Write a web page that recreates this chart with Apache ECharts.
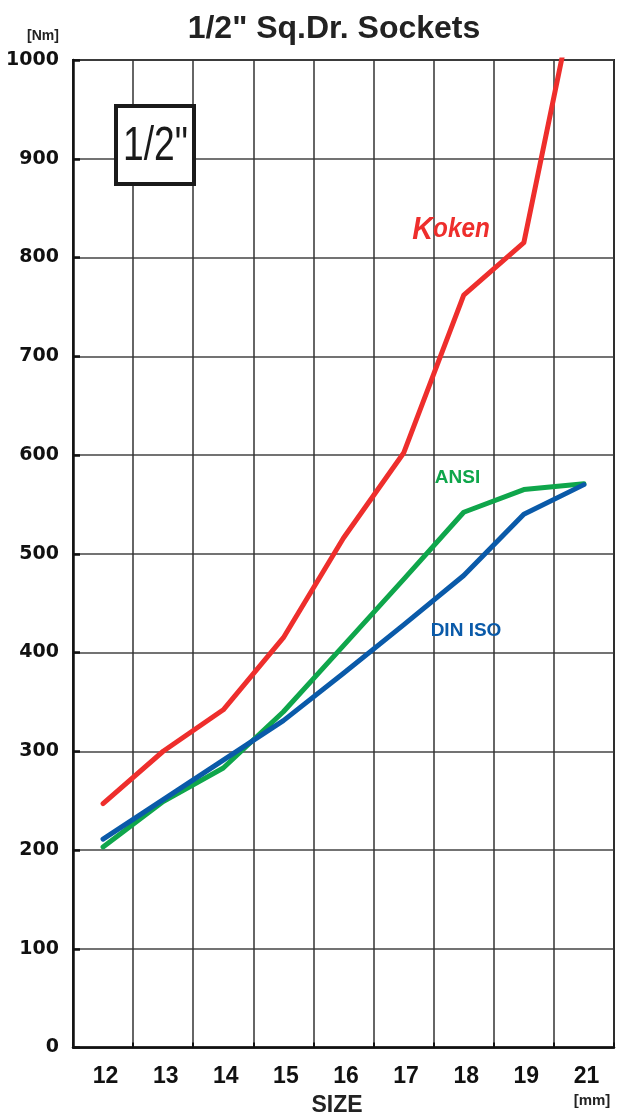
<!DOCTYPE html>
<html>
<head>
<meta charset="utf-8">
<title>1/2" Sq.Dr. Sockets</title>
<script src="https://cdn.jsdelivr.net/npm/echarts@6/dist/echarts.min.js"></script>
<style>
  html, body { margin: 0; padding: 0; background: #ffffff; }
  #chart { width: 619px; height: 1118px; }
</style>
</head>
<body>
<div id="chart"></div>
<script>
// Socket sizes [mm]
const sizes = ['12', '13', '14', '15', '16', '17', '18', '19', '21'];
// Torque [Nm] per size
const koken = [247, 300, 342, 415, 516, 602, 762, 815, 1110];
const ansi = [203, 249, 283, 340, 407, 474, 542, 565, 571];
const dinIso = [211, 251, 291, 331, 379, 428, 478, 540, 570];
const yTicks = { min: 0, max: 1000, interval: 100 };

const RED = '#ee2e2c';
const GREEN = '#0fa64b';
const BLUE = '#0a5aa9';
const SANS = '"Liberation Sans", Arial, sans-serif';

const chart = echarts.init(document.getElementById('chart'), null, { renderer: 'canvas' });

function lineSeries(name, data, color) {
  return {
    name: name,
    type: 'line',
    data: data,
    symbol: 'none',
    smooth: false,
    clip: true,
    lineStyle: { color: color, width: 5, cap: 'round', join: 'round' },
    emphasis: { disabled: true }
  };
}

chart.setOption({
  animation: false,
  backgroundColor: '#ffffff',
  title: {
    text: '1/2" Sq.Dr. Sockets',
    left: 329,
    top: 8,
    textAlign: 'center',
    textStyle: { fontFamily: SANS, fontWeight: 'bold', fontSize: 32, color: '#222222' }
  },
  grid: {
    left: 73, right: 5, top: 60, bottom: 70.5,
    containLabel: false,
    outerBoundsMode: 'none',
    show: true, borderColor: '#222222', borderWidth: 2
  },
  xAxis: {
    type: 'category',
    data: sizes,
    boundaryGap: true,
    axisLine: { lineStyle: { color: '#111111', width: 2.5 } },
    axisTick: { show: true, inside: true, length: 5, lineStyle: { color: '#111111', width: 2 } },
    axisLabel: {
      margin: 18, interval: 0,
      padding: [0, 0, 0, 5],
      fontFamily: SANS, fontWeight: 'bold', fontSize: 23, color: '#111111'
    },
    splitLine: { show: true, interval: 0, lineStyle: { color: '#333333', width: 1.5 } }
  },
  yAxis: {
    type: 'value',
    min: yTicks.min, max: yTicks.max, interval: yTicks.interval,
    axisLine: { show: true, lineStyle: { color: '#111111', width: 2.5 } },
    axisTick: { show: true, inside: true, length: 7, lineStyle: { color: '#111111', width: 2.5 } },
    axisLabel: {
      margin: 14,
      padding: [4, 0, 0, 0],
      formatter: function (v) { return String(v); },
      fontFamily: '"DejaVu Sans", sans-serif', fontWeight: 'bold', fontSize: 19, color: '#111111'
    },
    splitLine: { show: true, lineStyle: { color: '#444444', width: 1.5 } }
  },
  series: [
    lineSeries('Koken', koken, RED),
    lineSeries('ANSI', ansi, GREEN),
    lineSeries('DIN ISO', dinIso, BLUE)
  ],
  graphic: [
    // unit captions
    {
      type: 'text', x: 43, y: 36,
      style: { text: '[Nm]', align: 'center', verticalAlign: 'middle',
        font: 'bold 14px ' + SANS, fill: '#222222' }
    },
    {
      type: 'text', x: 337, y: 1106,
      style: { text: 'SIZE', align: 'center', verticalAlign: 'middle',
        font: 'bold 23px ' + SANS, fill: '#222222' }
    },
    {
      type: 'text', x: 592, y: 1101,
      style: { text: '[mm]', align: 'center', verticalAlign: 'middle',
        font: 'bold 15px ' + SANS, fill: '#222222' }
    },
    // drive size badge
    {
      type: 'rect',
      shape: { x: 116, y: 106, width: 78, height: 78 },
      style: { fill: '#ffffff', stroke: '#1a1a1a', lineWidth: 4 },
      z: 10
    },
    {
      type: 'text', x: 155.5, y: 146, scaleX: 0.76, z: 11,
      style: { text: '1/2"', align: 'center', verticalAlign: 'middle',
        font: 'normal 49px ' + SANS, fill: '#1a1a1a' }
    },
    // series captions
    {
      type: 'text', x: 451, y: 230, scaleX: 0.9, z: 11,
      style: {
        text: '{k|K}{r|oken}',
        align: 'center', verticalAlign: 'middle',
        rich: {
          k: { fontFamily: SANS, fontStyle: 'italic', fontWeight: 'bold', fontSize: 32, fill: RED, color: RED },
          r: { fontFamily: SANS, fontStyle: 'italic', fontWeight: 'bold', fontSize: 27, fill: RED, color: RED }
        }
      }
    },
    {
      type: 'text', x: 457.5, y: 478, z: 11,
      style: { text: 'ANSI', align: 'center', verticalAlign: 'middle',
        font: 'bold 19px ' + SANS, fill: GREEN }
    },
    {
      type: 'text', x: 466, y: 631, z: 11,
      style: { text: 'DIN ISO', align: 'center', verticalAlign: 'middle',
        font: 'bold 19px ' + SANS, fill: BLUE }
    }
  ]
});
</script>
</body>
</html>
